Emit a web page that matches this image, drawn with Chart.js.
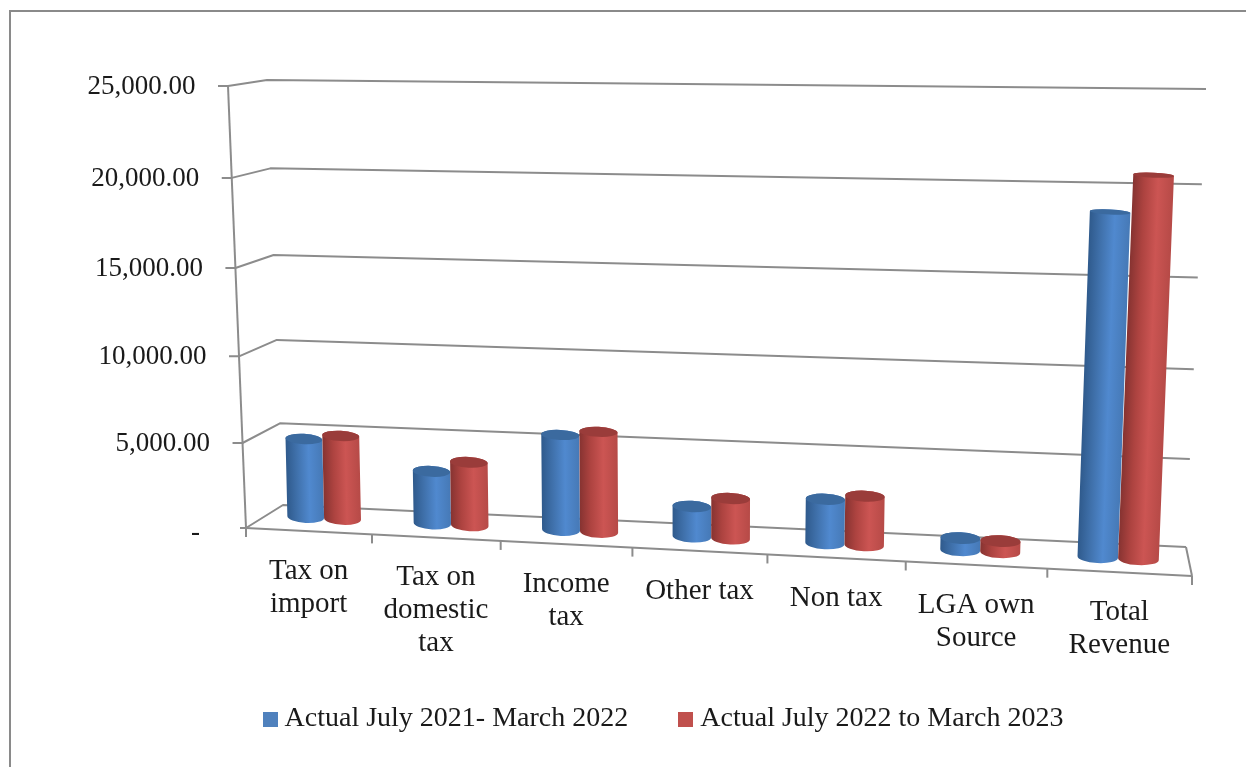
<!DOCTYPE html>
<html><head><meta charset="utf-8">
<script src="https://cdn.jsdelivr.net/npm/chart.js@4"></script>
<style>html,body{margin:0;padding:0;background:#fff}canvas{display:block}</style>
</head><body><canvas id="c" width="1246" height="767"></canvas>
<script>
const categories = [['Tax on','import'],['Tax on','domestic','tax'],['Income','tax'],'Other tax','Non tax',['LGA own','Source'],['Total','Revenue']];
const seriesNames = ['Actual July 2021- March 2022','Actual July 2022 to March 2023'];
const actual2122 = [4680,3095,5560,1750,2530,685,18780];
const actual2223 = [4960,3730,5830,2320,2810,625,20745];
const yTicksMax = 25000, yTickStep = 5000;

const SERIF = '"Liberation Serif", serif';
const LINE = '#8c8c8c';
const flat = ['#4f81bd','#c0504d'];
const stops = [
  [[0,'#2f5a8c'],[.28,'#3f70aa'],[.62,'#5089cf'],[1,'#4679b6']],
  [[0,'#863331'],[.28,'#ad4340'],[.62,'#cc5553'],[1,'#b64a47']]
];
const capFill = ['#3b6a9f','#9a3c3a'];

function swatch(c){const s=document.createElement('canvas');s.width=s.height=15;const g=s.getContext('2d');g.fillStyle=c;g.fillRect(0,0,15,15);return s;}
const swatches = flat.map(swatch);

/* perspective helpers */
const persp=(t,r)=>t/(t+r*(1-t));
const floorY=x=>528+(x-246)*48/946;
const frontX=t=>246+946*persp(t,1.07)-3.5*Math.sin(Math.PI*t);
const LEG_DX=28.5;

function seg(ctx,a,b,c,d){ctx.beginPath();ctx.moveTo(a,b);ctx.lineTo(c,d);ctx.stroke();}
const wallF=(y,v)=>persp((y.bottom-y.getPixelForValue(v))/(y.bottom-y.top),1.05);

const threeD={
  id:'threeD',
  afterLayout(chart){
    const L=chart.legend, fs=28, dx=42+LEG_DX;
    L.left+=dx;L.right+=dx;
    const h=L.bottom-L.top;
    L.top=719-L.options.labels.padding-fs/2;L.bottom=L.top+h;
  },
  beforeDraw(chart){
    const {ctx}=chart,x=chart.scales.x,y=chart.scales.y;
    ctx.save();ctx.strokeStyle='#8a8a8a';ctx.lineWidth=2;
    ctx.beginPath();ctx.moveTo(1246,11);ctx.lineTo(10,11);ctx.lineTo(10,767);ctx.stroke();ctx.restore();
    /* place native tick labels on the slanted floor */
    const n=categories.length;
    x.getLabelItems().forEach((it,i)=>{
      const cx=frontX((i+.5)/n);
      it.options.translation=[cx,floorY(cx)+40];
      it.textOffset=0;
    });
    y.getLabelItems().forEach((it,i)=>{
      const v=y.ticks[i].value,f=wallF(y,v);
      it.options.translation=[v===0?200:228+18*(1-f)-32.5,528-442*f+(v===0?5:1)];
    });
  },
  beforeDatasetsDraw(chart){
    const {ctx,chartArea:A}=chart,y=chart.scales.y;
    ctx.save();ctx.strokeStyle=LINE;ctx.lineWidth=2;ctx.lineCap='butt';ctx.lineJoin='round';
    /* walls: every gridline follows a tick value of the y scale */
    y.ticks.forEach(t=>{
      const f=wallF(y,t.value);
      const fx=246-18*f, fy=528-442*f;
      ctx.beginPath();ctx.moveTo(fx-(f===0?6:10),fy);ctx.lineTo(fx,fy);
      ctx.lineTo(283-16*f,505-425*f);ctx.lineTo(1186+20*f,547-458*f);ctx.stroke();
    });
    seg(ctx,228,86,246,528);
    seg(ctx,246,528,1192,576);
    seg(ctx,1186,547,1192,576);
    for(let i=0;i<=categories.length;i++){
      const px=frontX(i/categories.length);
      seg(ctx,px,floorY(px),px,floorY(px)+9);
    }
    ctx.restore();
    /* cylinders from the bar elements placed by the library */
    const metas=[0,1].map(i=>chart.getDatasetMeta(i));
    const X0=261.4,W=926.5,R=1.06,map=v=>X0+W*persp((v-A.left)/A.width,R);
    for(let c=0;c<categories.length;c++){
      for(let s=0;s<2;s++){
        const el=metas[s].data[c];
        const xl=map(el.x-el.width/2),xr=map(el.x+el.width/2),cx=(xl+xr)/2,rx=(xr-xl)/2;
        const S=5*(86.7+(cx-306)/791*6.3);
        const h=persp((el.base-el.y)/(y.bottom-y.top),1.05)*S;
        const by=517+(cx-306)*.0506;
        const shear=(cx-700)*(cx<700?.00006:.00009);
        const ry0=6,ryT=Math.max(2.5,6-h*.01),th=Math.atan(.05);
        ctx.save();
        ctx.translate(cx,by);
        ctx.transform(1,0,-shear,1,0,0);
        const g=ctx.createLinearGradient(-rx,0,rx,0);
        stops[s].forEach(p=>g.addColorStop(p[0],p[1]));
        ctx.fillStyle=g;
        ctx.beginPath();
        ctx.ellipse(0,0,rx,ry0,th,Math.PI,0,true);
        ctx.ellipse(0,-h,rx,ryT,th,0,Math.PI,true);
        ctx.closePath();ctx.fill();
        ctx.fillStyle=capFill[s];
        ctx.beginPath();ctx.ellipse(0,-h,rx,ryT,th,0,Math.PI*2);ctx.fill();
        ctx.restore();
      }
    }
    return false;
  }
};

new Chart(document.getElementById('c'),{
  type:'bar',
  plugins:[threeD],
  data:{labels:categories,datasets:[
    {label:seriesNames[0],data:actual2122,backgroundColor:flat[0]},
    {label:seriesNames[1],data:actual2223,backgroundColor:flat[1]}
  ]},
  options:{
    responsive:false,animation:false,devicePixelRatio:1,
    layout:{padding:{top:86,right:54,left:0,bottom:0}},
    datasets:{bar:{categoryPercentage:.585,barPercentage:1}},
    plugins:{
      tooltip:{enabled:false},
      legend:{position:'bottom',labels:{
        font:{family:SERIF,size:28},color:'#1a1a1a',padding:57,boxHeight:15,
        usePointStyle:true,pointStyleWidth:1,
        generateLabels:c=>Chart.defaults.plugins.legend.labels.generateLabels(c).map((l,i)=>({...l,pointStyle:swatches[i]}))
      }}
    },
    scales:{
      x:{
        afterFit:s=>{s.height=239-s.chart.legend.height;},
        grid:{display:false},border:{display:false},
        ticks:{autoSkip:false,maxRotation:0,minRotation:0,color:'#1a1a1a',font:{family:SERIF,size:29,lineHeight:1.14}}
      },
      y:{
        min:0,max:yTicksMax,
        afterFit:s=>{s.width=246;},
        grid:{display:false},border:{display:false},
        ticks:{stepSize:yTickStep,color:'#1a1a1a',font:{family:SERIF,size:27},padding:40,
          callback:v=>v===0?'-':v.toLocaleString('en-US',{minimumFractionDigits:2,maximumFractionDigits:2})}
      }
    }
  }
});
</script></body></html>
